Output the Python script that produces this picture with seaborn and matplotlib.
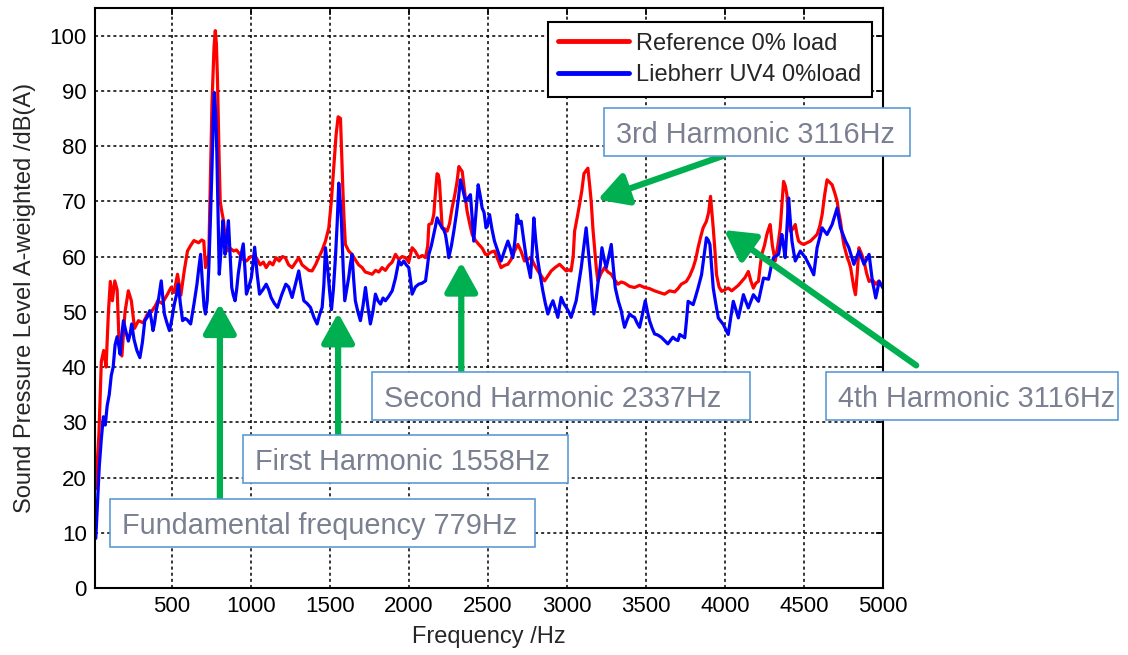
import numpy as np
import pandas as pd
import matplotlib
matplotlib.use("Agg")
import matplotlib.pyplot as plt
from matplotlib.lines import Line2D
from matplotlib.patches import Rectangle
import seaborn as sns

# === 数据 ===
ref_freq = [20, 40, 55, 70, 85, 100, 112, 125, 140, 155, 168, 185, 205, 226, 245, 265, 290, 320, 345, 371,
            395, 413, 440, 470, 496, 515, 537, 558, 580, 600, 620, 641, 670, 690, 703, 714, 735, 755, 768, 776,
            783, 790, 800, 807, 818, 828, 840, 849, 870, 892, 910, 932, 950, 973, 1000, 1035, 1060, 1080, 1098, 1120,
            1140, 1160, 1180, 1201, 1219, 1240, 1262, 1285, 1304, 1325, 1346, 1368, 1388, 1410, 1430, 1450, 1473, 1494, 1510, 1525,
            1540, 1553, 1568, 1575, 1582, 1590, 1599, 1620, 1641, 1660, 1683, 1705, 1725, 1748, 1768, 1790, 1810, 1831, 1852, 1873,
            1895, 1916, 1937, 1958, 1979, 2000, 2021, 2040, 2063, 2085, 2106, 2120, 2127, 2145, 2158, 2170, 2179, 2187, 2194, 2203,
            2211, 2228, 2243, 2258, 2274, 2290, 2305, 2317, 2328, 2338, 2352, 2369, 2385, 2401, 2420, 2443, 2465, 2485, 2500, 2520,
            2542, 2563, 2584, 2605, 2627, 2648, 2669, 2690, 2710, 2732, 2752, 2774, 2795, 2817, 2838, 2859, 2880, 2901, 2925, 2954,
            2975, 2996, 3015, 3027, 3040, 3049, 3065, 3080, 3095, 3108, 3120, 3133, 3144, 3154, 3165, 3175, 3186, 3196, 3217, 3238,
            3260, 3281, 3302, 3323, 3344, 3365, 3397, 3428, 3460, 3492, 3523, 3555, 3585, 3618, 3650, 3682, 3703, 3724, 3756, 3777,
            3799, 3815, 3830, 3846, 3862, 3883, 3897, 3909, 3918, 3926, 3937, 3947, 3963, 3979, 4000, 4021, 4043, 4064, 4085, 4106,
            4127, 4148, 4165, 4180, 4196, 4212, 4222, 4233, 4250, 4265, 4276, 4286, 4300, 4318, 4335, 4350, 4362, 4371, 4382, 4392,
            4403, 4413, 4430, 4445, 4456, 4466, 4482, 4498, 4520, 4541, 4562, 4583, 4600, 4615, 4630, 4646, 4660, 4678, 4695, 4710,
            4720, 4731, 4742, 4752, 4763, 4774, 4785, 4795, 4806, 4816, 4826, 4837, 4848, 4864, 4880, 4896, 4912, 4933, 4954, 4975,
            4986, 5000]
ref_db = [18, 28, 41, 43, 40, 50, 55.5, 52, 55.6, 54, 44, 42, 50, 53.8, 52, 47, 48.4, 48, 49.5, 50,
          51, 52, 51.5, 53, 54.4, 53.5, 56.8, 53, 57.5, 61, 62, 62.9, 62.5, 63, 62.8, 58, 60.4, 87.6, 98, 100.9,
          98.5, 91.8, 78, 70, 68, 66.5, 63, 61, 61.5, 61, 61.2, 60.4, 59.5, 59.2, 60, 59.8, 58.5, 59, 58, 59,
          58.5, 59.8, 59.2, 60, 59.8, 58.5, 58, 59, 59.8, 58.5, 58, 57.5, 57.4, 58.5, 59.8, 61, 62.8, 65.2, 70, 76,
          82, 85.3, 85, 79, 73, 67, 62.2, 61, 60.4, 59.5, 58.5, 58, 57.2, 57, 56.8, 57.5, 57.2, 58, 57.5, 58.4,
          59, 60.4, 59.5, 60, 59.8, 59, 61.6, 61, 59.8, 60.2, 59.8, 62, 65.8, 66, 67.6, 72, 75, 74.8, 73.6, 69,
          65.2, 65, 64.6, 66, 68.8, 71, 73.5, 76.3, 75.8, 75.4, 72, 68.2, 66, 64, 63, 62.2, 61.5, 60.4, 60.4, 60.8,
          61, 59.5, 58, 58.4, 58.6, 59.5, 61, 62.2, 61, 59.2, 59.5, 59.8, 58.5, 57.4, 56.5, 55.6, 56.5, 57.4, 58, 58.6,
          58, 57.4, 57.6, 57.4, 60, 64.6, 67, 69.4, 72, 75, 75.5, 76, 73, 70, 65, 61.6, 58, 55.6, 57, 58,
          57.2, 56.8, 55.8, 55, 55.4, 55.2, 54.6, 54.4, 54.8, 54.4, 54.2, 53.8, 53.5, 53.2, 53.8, 53.6, 54.2, 55, 55.5, 56.5,
          58, 59.5, 61.6, 63.5, 65.2, 66.4, 68, 70.9, 68, 65.2, 61, 56.7, 54.5, 53.7, 54, 54.3, 53.8, 54.3, 54.8, 55.5,
          56.2, 57.3, 55.5, 54.3, 55.2, 55.5, 58, 60.4, 62, 64, 65, 65.8, 62, 59.2, 62, 65.2, 70, 73.6, 72.8, 71.2,
          67, 64.6, 65, 65.8, 64, 62.8, 62.4, 62.2, 62.5, 62.8, 63.4, 64, 65.5, 67.6, 71, 73.9, 73.5, 73, 71.5, 70,
          68, 66.4, 64, 62.2, 61, 59.8, 59, 58, 56, 54.3, 53.1, 57, 61.6, 60.5, 59.2, 57, 55.5, 55.8, 55, 55.6,
          55, 54.5]

uv4_freq = [20, 30, 42, 55, 68, 80, 92, 105, 118, 130, 142, 155, 165, 174, 185, 195, 210, 226, 237, 247,
            262, 280, 299, 315, 330, 345, 361, 372, 382, 392, 402, 418, 434, 444, 454, 470, 486, 500, 517, 530,
            542, 555, 569, 585, 600, 620, 641, 660, 672, 683, 695, 705, 714, 725, 735, 745, 755, 763, 770, 778,
            786, 793, 801, 812, 824, 831, 838, 848, 859, 870, 880, 890, 901, 911, 921, 937, 953, 963, 973, 988,
            1004, 1014, 1025, 1040, 1056, 1077, 1098, 1114, 1129, 1150, 1170, 1195, 1222, 1240, 1262, 1283, 1304, 1320, 1336, 1357,
            1378, 1400, 1420, 1436, 1452, 1463, 1473, 1482, 1490, 1500, 1511, 1523, 1536, 1547, 1557, 1566, 1574, 1585, 1595, 1607,
            1620, 1630, 1641, 1651, 1662, 1678, 1694, 1710, 1726, 1741, 1757, 1773, 1789, 1805, 1821, 1837, 1852, 1873, 1895, 1915,
            1937, 1952, 1968, 1984, 2000, 2010, 2021, 2042, 2063, 2085, 2106, 2117, 2127, 2143, 2158, 2169, 2179, 2195, 2211, 2222,
            2232, 2243, 2253, 2270, 2285, 2300, 2314, 2327, 2343, 2359, 2375, 2390, 2401, 2411, 2425, 2439, 2452, 2464, 2476, 2489,
            2500, 2511, 2526, 2542, 2563, 2584, 2605, 2627, 2642, 2658, 2672, 2685, 2698, 2711, 2727, 2743, 2757, 2770, 2781, 2791,
            2803, 2817, 2832, 2848, 2864, 2880, 2896, 2912, 2928, 2943, 2954, 2964, 2980, 2996, 3012, 3027, 3043, 3059, 3075, 3091,
            3106, 3122, 3136, 3150, 3160, 3171, 3184, 3196, 3210, 3222, 3236, 3249, 3265, 3281, 3294, 3306, 3325, 3344, 3355, 3365,
            3381, 3397, 3413, 3428, 3444, 3460, 3478, 3496, 3510, 3523, 3540, 3555, 3575, 3597, 3618, 3639, 3655, 3671, 3687, 3703,
            3714, 3730, 3746, 3757, 3767, 3783, 3799, 3815, 3830, 3841, 3852, 3867, 3883, 3894, 3905, 3916, 3926, 3942, 3958, 3974,
            3990, 4005, 4021, 4037, 4053, 4069, 4085, 4101, 4117, 4132, 4148, 4164, 4180, 4196, 4212, 4228, 4244, 4260, 4276, 4291,
            4307, 4323, 4339, 4350, 4360, 4371, 4381, 4392, 4403, 4413, 4424, 4434, 4445, 4461, 4477, 4493, 4509, 4525, 4541, 4552,
            4562, 4572, 4583, 4599, 4615, 4630, 4646, 4662, 4678, 4694, 4710, 4720, 4731, 4747, 4763, 4774, 4784, 4800, 4816, 4832,
            4848, 4864, 4880, 4896, 4912, 4922, 4933, 4944, 4954, 4965, 4975, 4988, 5000]
uv4_db = [9, 15, 22, 27, 31, 29.5, 33, 35, 38.5, 40, 44, 45.5, 44, 42.3, 46, 48.4, 46.5, 44.7, 46, 47.8,
          45, 43, 41.7, 44.5, 48.4, 49, 50.2, 48.5, 46.6, 48, 50.2, 52.5, 55.6, 52.5, 49.6, 48, 46.6, 48.5, 51.4, 53,
          55, 51.5, 48.4, 48.8, 48.5, 47.8, 51.4, 55, 58, 60.4, 55, 51, 49.6, 52, 58, 66.5, 76, 85, 89.7, 86,
          78.6, 68, 56.8, 61, 66.5, 63, 60.4, 63, 66.5, 60, 54.4, 53, 52, 54, 56.8, 60, 62.3, 58, 53.2, 54.5,
          56.2, 58.5, 61.7, 57, 53.2, 54, 55, 54, 52.6, 51.5, 50.8, 53, 55, 54.5, 52.6, 55, 57.4, 54.5, 52, 51.5,
          50.8, 49, 47.8, 49.5, 50.8, 55, 61.6, 59, 56.8, 53.5, 50.4, 54, 59.8, 66, 73.3, 70, 66.4, 58, 52, 54,
          56.2, 58.5, 60.4, 56, 52, 50, 48.4, 51, 54.4, 51, 47.8, 50, 53.2, 52, 51.4, 52.5, 52, 52.8, 53.8, 56,
          59.2, 58.5, 59.2, 58.5, 58, 56, 53.2, 54.5, 55, 55.2, 55.6, 58, 60.4, 62, 64, 65.5, 67, 66, 65.2, 64.8,
          64, 62, 59.8, 62, 64.6, 67.5, 70.5, 73.9, 72, 70, 70.6, 71.2, 67, 62.8, 68, 73, 71, 68.8, 68, 65.2,
          66, 67.6, 65, 62.8, 61, 59.2, 61, 62.8, 61.5, 59.8, 63, 67.6, 66, 66.4, 63, 59.8, 58, 56.2, 61, 67,
          63, 59.2, 56.5, 53.8, 51.5, 49.6, 51, 52, 50.5, 49, 51, 52.6, 51.5, 50.8, 50, 49, 50.5, 52, 55, 58,
          61.5, 65.2, 61, 56.8, 53, 49.6, 52, 55, 58, 61.6, 59.5, 58, 60, 62.2, 58, 54.4, 52, 50.2, 48.5, 47.2,
          48.5, 49.6, 49.2, 49, 48, 47.2, 49.5, 52, 50, 48.4, 47, 46, 45.8, 45.4, 44.8, 44.2, 44.8, 45.4, 45, 44.8,
          45.9, 45.6, 45.3, 48.5, 51.9, 51.6, 51.3, 52.8, 54.3, 55.5, 56.7, 60, 63.4, 63, 62.2, 58, 54.3, 51.5, 48.9, 48.3,
          47.7, 46.8, 45.9, 49, 51.9, 50.4, 48.9, 51, 53.1, 51.9, 50.7, 51.9, 53.1, 52.5, 51.9, 54, 56.1, 56, 55.9, 58,
          59.8, 60.1, 60.4, 62.2, 64, 61.9, 59.8, 65, 70.6, 66.7, 62.8, 61, 59.2, 60.1, 61, 60.4, 59.8, 58.9, 58, 57.3,
          56.7, 59, 61.6, 63.4, 65.2, 64.6, 64, 64.9, 65.8, 67.3, 68.8, 67, 65.2, 64, 62.8, 62.2, 61.6, 60.1, 58.6, 59.8,
          61, 59.8, 58.6, 59.5, 60.4, 58, 55.5, 54, 52.5, 54, 55.5, 54.9, 54.3]

series_names = ["Reference 0% load", "Liebherr UV4 0%load"]
series_colors = ["#ff0000", "#0000ff"]

# (text, arrow tip (Hz, dB), arrow tail (Hz, dB), box [x0, y0, w, h] in figure pixels from top-left)
notes = [
    ("Fundamental frequency 779Hz", (805, 51.5), (805, 16.0), [110, 499, 425, 48]),
    ("First Harmonic 1558Hz", (1553, 49.8), (1553, 27.5), [243, 435, 325, 48]),
    ("Second Harmonic 2337Hz", (2332, 59.0), (2332, 39.0), [372, 372, 378, 48]),
    ("3rd Harmonic 3116Hz", (3195, 70.3), (3986, 78.2), [604, 108, 306, 48]),
    ("4th Harmonic 3116Hz", (3995, 64.8), (5210, 40.3), [826, 372, 292, 48]),
]

df = pd.concat([
    pd.DataFrame({"freq": ref_freq, "db": ref_db, "series": series_names[0]}),
    pd.DataFrame({"freq": uv4_freq, "db": uv4_db, "series": series_names[1]}),
], ignore_index=True)

# === 绘图 ===
sns.set_style("white")
plt.rcParams['font.family'] = ['Liberation Sans', 'DejaVu Sans']

W, H = 1128, 655
fig = plt.figure(figsize=(W / 100, H / 100), dpi=100)
ax = fig.add_axes([95 / W, (H - 588) / H, (883 - 95) / W, (588 - 8) / H])

sns.lineplot(data=df, x="freq", y="db", hue="series", palette=series_colors,
             estimator=None, sort=False, linewidth=2.3, legend=False, ax=ax)

ax.set_xlim(15, 5000)
ax.set_ylim(0, 105)
ax.set_xticks(np.arange(500, 5001, 500))
ax.set_yticks(np.arange(0, 101, 10))
ax.grid(True, color="black", linestyle=(0, (2, 2)), linewidth=1.1)
ax.tick_params(direction="in", top=True, right=True, length=5, width=1.2,
               labelsize=16, colors="black", pad=6)
for s in ax.spines.values():
    s.set_color("black")
    s.set_linewidth(1.5)
ax.set_xlabel("Frequency /Hz", fontsize=17, labelpad=6)
ax.set_ylabel("Sound Pressure Level A-weighted /dB(A)", fontsize=17, labelpad=10)

handles = [Line2D([], [], color=c, lw=3.5) for c in series_colors]
leg = ax.legend(handles, series_names, loc="upper right", bbox_to_anchor=(0.986, 0.976),
                borderaxespad=0, fontsize=17, handlelength=3.0, handletextpad=0.3,
                labelspacing=0.42, borderpad=0.45, fancybox=False, framealpha=1)
leg.get_frame().set_edgecolor("black")
leg.get_frame().set_linewidth(1.5)

# 标注
for text, tip, tail, box in notes:
    ax.annotate("", xy=tip, xytext=tail, annotation_clip=False, zorder=5,
                arrowprops=dict(arrowstyle="-|>,head_length=0.9,head_width=0.5",
                                color="#00b050", lw=4.5, mutation_scale=20,
                                shrinkA=0, shrinkB=0))
    x0, y0, w, h = box
    fig.patches.append(Rectangle((x0 / W, 1 - (y0 + h) / H), w / W, h / H,
                                 transform=fig.transFigure, facecolor="white",
                                 edgecolor="#5b9bd5", linewidth=1.2, zorder=6))
    fig.text((x0 + 12) / W, 1 - (y0 + h / 2) / H, text, fontsize=20.8,
             color="#7a8091", ha="left", va="center_baseline", zorder=7)

fig.savefig("out.png", dpi=100)
